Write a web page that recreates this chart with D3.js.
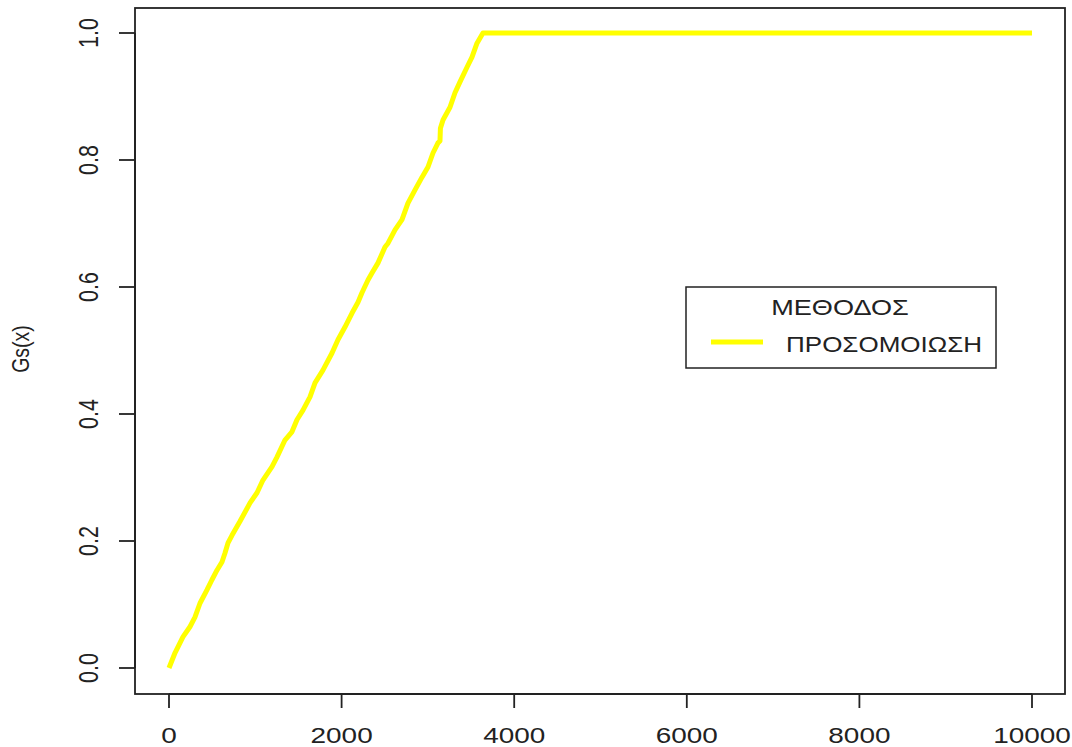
<!DOCTYPE html>
<html>
<head>
<meta charset="utf-8">
<script src="https://cdn.jsdelivr.net/npm/d3@7"></script>
<style>
  html, body { margin: 0; padding: 0; background: #fff; }
  svg { display: block; font-family: "Liberation Sans", Arial, sans-serif; }
</style>
</head>
<body>
<svg id="chart" width="1072" height="747"></svg>
<script>
// Empirical distribution Gs(x) of the simulated values
const xValues = [0, 70, 162, 243, 301, 359, 440, 498, 556, 614, 649, 684, 730, 823, 939, 1020,
  1089, 1194, 1251, 1344, 1425, 1483, 1553, 1634, 1692, 1784, 1889, 1958, 2039, 2121, 2190,
  2236, 2306, 2352, 2422, 2503, 2538, 2619, 2700, 2769, 2851, 2932, 3001, 3059, 3117, 3140,
  3145, 3175, 3256, 3314, 3372, 3453, 3511, 3569, 3638, 10000];
const gsValues = [0, 0.024, 0.049, 0.065, 0.080, 0.102, 0.123, 0.139, 0.154, 0.167, 0.181,
  0.197, 0.209, 0.231, 0.260, 0.276, 0.296, 0.317, 0.332, 0.359, 0.372, 0.391, 0.406, 0.427,
  0.449, 0.469, 0.496, 0.517, 0.537, 0.559, 0.576, 0.591, 0.611, 0.622, 0.638, 0.663, 0.669,
  0.690, 0.706, 0.732, 0.753, 0.773, 0.789, 0.811, 0.827, 0.830, 0.850, 0.863, 0.883, 0.906,
  0.923, 0.946, 0.962, 0.984, 1.0, 1.0];
const xTicks = [0, 2000, 4000, 6000, 8000, 10000];
const yTicks = [0.0, 0.2, 0.4, 0.6, 0.8, 1.0];
const yTickLabels = ["0.0", "0.2", "0.4", "0.6", "0.8", "1.0"];
const yTitle = "Gs(x)";
const legendTitle = "ΜΕΘΟΔΟΣ";
const seriesName = "ΠΡΟΣΟΜΟΙΩΣΗ";

const svg = d3.select("#chart");
const box = { left: 135, top: 8, right: 1065, bottom: 694 };
const x = d3.scaleLinear().domain([0, 10000]).range([169, 1032]);
const y = d3.scaleLinear().domain([0, 1]).range([668, 33]);
const sx = 1.3;          // glyphs are drawn slightly wide
const fontSize = 21.5;
const ink = "#222";

// plot frame
svg.append("rect")
  .attr("x", box.left).attr("y", box.top)
  .attr("width", box.right - box.left).attr("height", box.bottom - box.top)
  .attr("fill", "none").attr("stroke", ink).attr("stroke-width", 1.8);

// bottom axis
const gx = svg.append("g");
gx.append("line").attr("x1", x(xTicks[0])).attr("x2", x(xTicks[xTicks.length - 1]))
  .attr("y1", box.bottom).attr("y2", box.bottom).attr("stroke", ink).attr("stroke-width", 1.8);
gx.selectAll("line.tick").data(xTicks).join("line").attr("class", "tick")
  .attr("x1", d => x(d)).attr("x2", d => x(d))
  .attr("y1", box.bottom).attr("y2", box.bottom + 14)
  .attr("stroke", ink).attr("stroke-width", 1.8);
gx.selectAll("text").data(xTicks).join("text")
  .attr("transform", d => `translate(${x(d)},743) scale(${sx},1)`)
  .attr("text-anchor", "middle").attr("font-size", fontSize).attr("fill", ink)
  .text(d => String(d));

// left axis
const gy = svg.append("g");
gy.append("line").attr("x1", box.left).attr("x2", box.left)
  .attr("y1", y(yTicks[0])).attr("y2", y(yTicks[yTicks.length - 1]))
  .attr("stroke", ink).attr("stroke-width", 1.8);
gy.selectAll("line.tick").data(yTicks).join("line").attr("class", "tick")
  .attr("x1", box.left - 16).attr("x2", box.left)
  .attr("y1", d => y(d)).attr("y2", d => y(d))
  .attr("stroke", ink).attr("stroke-width", 1.8);
gy.selectAll("text").data(yTicks).join("text")
  .attr("transform", d => `translate(98,${y(d)}) scale(${sx},1) rotate(-90)`)
  .attr("text-anchor", "middle").attr("font-size", fontSize).attr("fill", ink)
  .text((d, i) => yTickLabels[i]);

// y axis title
svg.append("text")
  .attr("transform", `translate(29,349) scale(1.2,1) rotate(-90)`)
  .attr("text-anchor", "middle").attr("font-size", 19.5).attr("fill", ink)
  .text(yTitle);

// distribution curve
const pts = xValues.map((v, i) => [v, gsValues[i]]);
svg.append("path")
  .datum(pts)
  .attr("fill", "none")
  .attr("stroke", "#ffff00")
  .attr("stroke-width", 5)
  .attr("stroke-linejoin", "round")
  .attr("d", d3.line().x(d => x(d[0])).y(d => y(d[1])));

// legend
const lg = svg.append("g");
lg.append("rect").attr("x", 686).attr("y", 287).attr("width", 310).attr("height", 81)
  .attr("fill", "#fff").attr("stroke", ink).attr("stroke-width", 1.5);
lg.append("text")
  .attr("transform", `translate(840,315) scale(1.26,1)`)
  .attr("text-anchor", "middle").attr("font-size", fontSize).attr("fill", ink)
  .text(legendTitle);
lg.append("line").attr("x1", 711).attr("x2", 763).attr("y1", 342).attr("y2", 342)
  .attr("stroke", "#ffff00").attr("stroke-width", 5);
lg.append("text")
  .attr("transform", `translate(786,352) scale(1.21,1)`)
  .attr("font-size", fontSize).attr("fill", ink)
  .text(seriesName);
</script>
</body>
</html>
